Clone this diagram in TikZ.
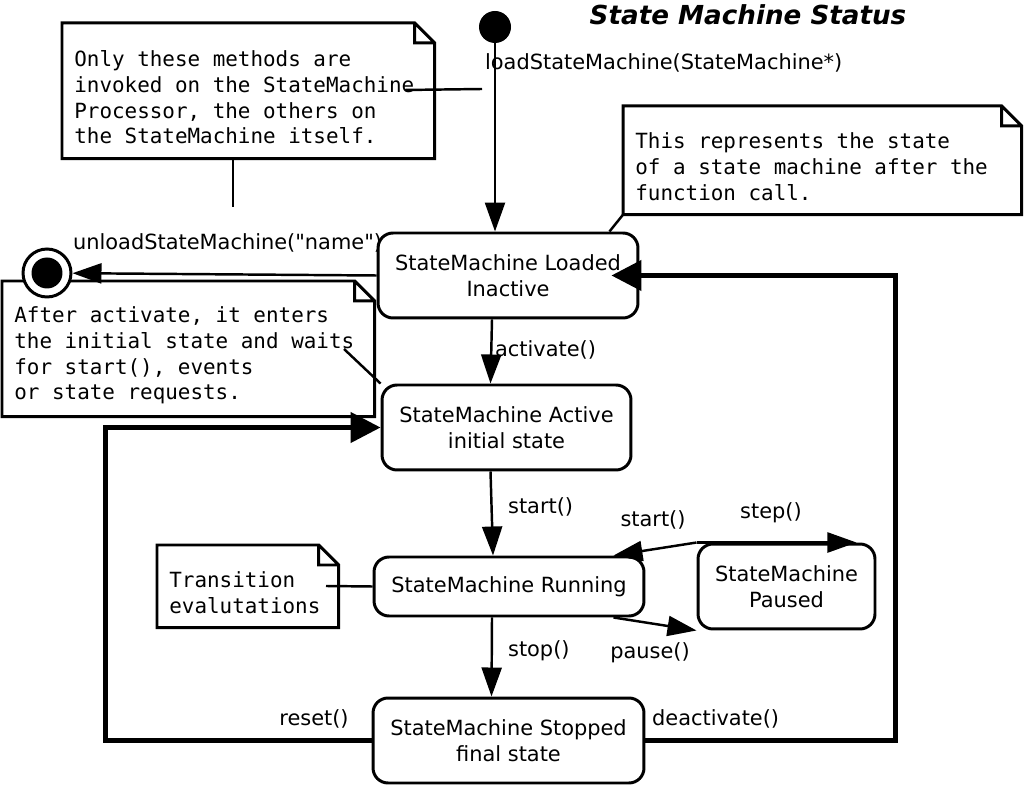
\documentclass[tikz,border=0pt]{standalone}
\usepackage{fontspec}
\setmainfont{DejaVu Sans}[Ligatures=TeXOff]
\newfontfamily\notefont{DejaVu Sans Mono}[Ligatures=TeXOff]
\newcommand{\notestrut}{\spaceskip=0.602em\relax\xspaceskip=0.602em\relax
    \leavevmode\vrule height 0.58cm depth 0pt width 0pt\relax}
\usetikzlibrary{arrows.meta}

\begin{document}
\begin{tikzpicture}[x=0.02cm,y=-0.02cm,
           state_style/.style={rectangle,rounded corners=0.3cm,draw=black,line width=1.7pt,align=center,minimum height=1.7cm,font=\fontsize{11.9}{14.7}\selectfont},
           note_style/.style={rectangle,anchor=north west,inner xsep=0.24cm,align=left,font=\notefont\fontsize{11.9}{14.7}\selectfont},
           label_style/.style={inner sep=1pt,font=\fontsize{11.9}{14.7}\selectfont},
           edge_style/.style={draw=black,line width=1.4pt,-{Triangle[length=0.58cm,width=0.4cm]}},
           thick_edge_style/.style={draw=black,line width=2.6pt,-{Triangle[length=0.6cm,width=0.6cm]}},
           link_style/.style={draw=black,line width=1.4pt}]
            \useasboundingbox (0,0) rectangle (1024,786);
            % notes
            \node[note_style,text width=6.96cm,minimum width=7.44cm,minimum height=2.7cm] (note1) at (62,23)
                {\notestrut Only these methods are\\invoked on the StateMachine\\Processor, the others on\\the StateMachine itself.};
            \node[note_style,text width=7.48cm,minimum width=7.96cm,minimum height=2.16cm] (note2) at (623,106)
                {\notestrut This represents the state\\of a state machine after the\\function call.};
            \node[note_style,text width=6.96cm,minimum width=7.44cm,minimum height=2.7cm] (note3) at (2,281)
                {\notestrut After activate, it enters\\the initial state and waits\\for start(), events\\or state requests.};
            \node[note_style,text width=3.14cm,minimum width=3.62cm,minimum height=1.64cm] (note4) at (157,545)
                {\notestrut Transition\\evalutations};
            \foreach \n in {note1,note2,note3,note4}
                \draw[line width=1.7pt] (\n.north west) -- ([xshift=-0.4cm]\n.north east)
                    -- ([yshift=-0.4cm]\n.north east) -- (\n.south east) -- (\n.south west) -- cycle
                    ([xshift=-0.4cm]\n.north east) |- ([yshift=-0.4cm]\n.north east);
            % states
            \node[state_style,minimum width=5.2cm] (loaded) at (508,275.5) {StateMachine Loaded\\Inactive};
            \node[state_style,minimum width=4.98cm] (active) at (506.5,427.5) {StateMachine Active\\initial state};
            \node[state_style,minimum width=5.4cm,minimum height=1.18cm] (running) at (509,586.5) {StateMachine Running};
            \node[state_style,minimum width=3.54cm] (paused) at (786.5,586.5) {StateMachine\\Paused};
            \node[state_style,minimum width=5.42cm] (stopped) at (508.5,740.5) {StateMachine Stopped\\final state};
            \node[circle,fill=black,inner sep=0pt,minimum size=0.64cm] (init) at (495,27) {};
            \node[circle,draw=black,fill=white,line width=1.7pt,inner sep=0pt,minimum size=0.96cm] (final) at (47,273) {};
            \node[circle,fill=black,inner sep=0pt,minimum size=0.62cm] (final_dot) at (final) {};
            % note links
            \coordinate (note1_tail) at (405,90);
            \coordinate (note1_head) at (482,89);
            \coordinate (note1_stub) at (233,207);
            \coordinate (note3_tail) at (344,349);
            \coordinate (note4_tail) at (326,586);
            \draw[link_style] (note1_tail) -- (note1_head);
            \draw[link_style] (note1.south -| note1_stub) -- (note1_stub);
            \draw[link_style] (note2.south west) -- ([xshift=-0.6cm]loaded.north east);
            \draw[link_style] (note3_tail) -- (active.north west);
            \draw[link_style] (note4_tail) -- (running.west);
            % transitions
            \draw[edge_style] (init) -- (loaded.north -| init);
            \draw[edge_style] (loaded.west) -- (final);
            \draw[edge_style] ([xshift=-0.32cm]loaded.south) -- ([xshift=-0.32cm]active.north);
            \draw[edge_style] ([xshift=-0.32cm]active.south) -- ([xshift=-0.32cm]running.north);
            \draw[edge_style] ([xshift=-0.34cm]running.south) -- ([xshift=-0.34cm]stopped.north);
            \draw[edge_style] (paused.north west) -- ([xshift=-0.64cm]running.north east);
            \draw[edge_style] (paused.north west) -- ([xshift=-0.4cm]paused.north east);
            \draw[edge_style] ([xshift=-0.64cm]running.south east) -- (paused.south west);
            \draw[thick_edge_style] (stopped.west) -- ++(-266,0) |- (active.west);
            \draw[thick_edge_style] (stopped.east) -- ++(250,0) |- ([xshift=-0.56cm]loaded.east);
            % labels
            \node[font=\bfseries\itshape\fontsize{14.9}{18}\selectfont] (title) at (748,15) {State Machine Status};
            \node[label_style,anchor=west] (load_lbl) at (483,63) {loadStateMachine(StateMachine*)};
            \node[label_style,anchor=west] (unload_lbl) at (71,243) {unloadStateMachine("name")};
            \node[label_style,anchor=west] (activate_lbl) at (493,350) {activate()};
            \node[label_style,anchor=west] (start_lbl) at (506,507) {start()};
            \node[label_style] (resume_lbl) at (653,520) {start()};
            \node[label_style] (step_lbl) at (771,513) {step()};
            \node[label_style] (pause_lbl) at (650,653) {pause()};
            \node[label_style,anchor=west] (stop_lbl) at (506,651) {stop()};
            \node[label_style] (reset_lbl) at (314,719) {reset()};
            \node[label_style,anchor=west] (deactivate_lbl) at (650,719) {deactivate()};
\end{tikzpicture}
\end{document}
